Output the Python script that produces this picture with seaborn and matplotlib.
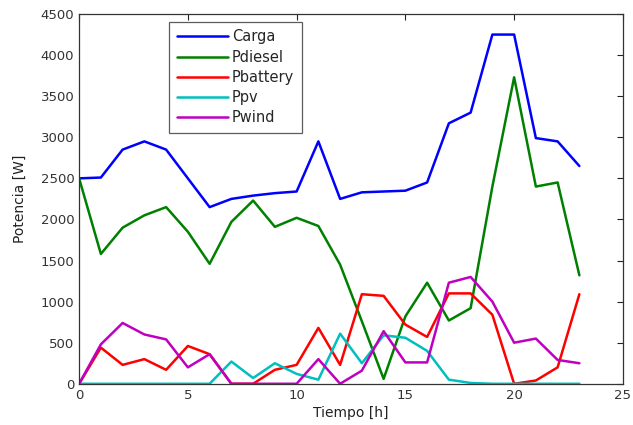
import numpy as np
import pandas as pd
import matplotlib
matplotlib.use('Agg')
import matplotlib.pyplot as plt
import seaborn as sns

# Hourly power balance (W)
hours = list(range(24))
carga = [2500, 2510, 2850, 2950, 2850, 2500, 2150, 2250, 2290, 2320, 2340, 2950,
         2250, 2330, 2340, 2350, 2450, 3170, 3300, 4250, 4250, 2990, 2950, 2650]
pdiesel = [2500, 1580, 1900, 2050, 2150, 1850, 1460, 1970, 2230, 1910, 2020, 1920,
           1450, 760, 60, 820, 1230, 770, 920, 2400, 3730, 2400, 2450, 1320]
pbattery = [0, 440, 230, 300, 170, 460, 360, 0, 0, 170, 230, 680,
            230, 1090, 1070, 720, 570, 1100, 1100, 840, 0, 40, 200, 1090]
ppv = [0, 0, 0, 0, 0, 0, 0, 270, 70, 250, 120, 50,
       610, 250, 590, 560, 400, 50, 10, 0, 0, 0, 0, 0]
pwind = [0, 480, 740, 600, 540, 200, 360, 0, 0, 0, 0, 300,
         0, 160, 640, 260, 260, 1230, 1300, 1000, 500, 550, 290, 250]

series_names = ['Carga', 'Pdiesel', 'Pbattery', 'Ppv', 'Pwind']
colors = ['#0000ff', '#008000', '#ff0000', '#00bfbf', '#bf00bf']

df = pd.DataFrame({'Tiempo': hours, 'Carga': carga, 'Pdiesel': pdiesel,
                   'Pbattery': pbattery, 'Ppv': ppv, 'Pwind': pwind})
long_df = df.melt(id_vars='Tiempo', var_name='Serie', value_name='Potencia')

sns.set_style('white')
plt.rcParams['font.family'] = ['DejaVu Sans']

fig, ax = plt.subplots(figsize=(6.33, 4.25), dpi=100)
fig.subplots_adjust(left=0.125, right=0.984, top=0.967, bottom=0.097)

sns.lineplot(data=long_df, x='Tiempo', y='Potencia', hue='Serie',
             hue_order=series_names, palette=colors, linewidth=1.8, ax=ax)

ax.set_xlim(0, 25)
ax.set_ylim(0, 4500)
ax.set_xticks(range(0, 26, 5))
ax.set_yticks(range(0, 4501, 500))
ax.tick_params(direction='in', length=4, labelsize=9.5, colors='#222222',
               top=True, right=True, labelcolor='#333333')
for s in ax.spines.values():
    s.set_color('#333333')
    s.set_linewidth(0.9)

ax.set_xlabel('Tiempo [h]', fontsize=10, labelpad=3, color='#222222')
ax.set_ylabel('Potencia [W]', fontsize=10, labelpad=10, color='#222222')

leg = ax.legend(loc='upper left', bbox_to_anchor=(0.166, 0.978), fontsize=10.5,
                handlelength=3.5, frameon=True, fancybox=False,
                borderpad=0.5, labelspacing=0.36, handletextpad=0.3,
                borderaxespad=0)
leg.get_frame().set_edgecolor('#333333')
leg.get_frame().set_linewidth(0.9)

plt.savefig('out.png', dpi=100)
